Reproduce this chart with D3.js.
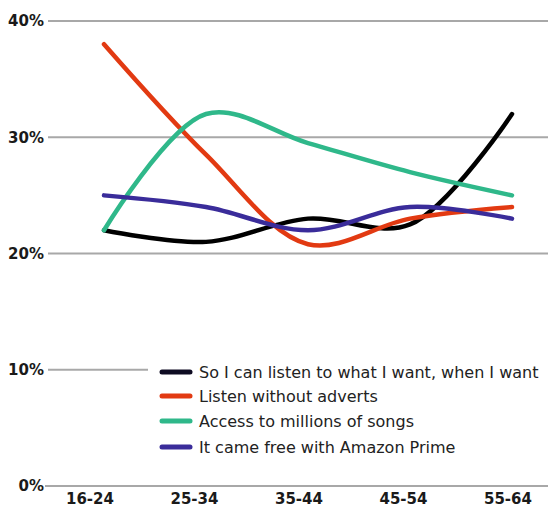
<!DOCTYPE html>
<html><head><meta charset="utf-8">
<script src="https://cdn.jsdelivr.net/npm/d3@7"></script>
<style>body{margin:0;background:#fff}svg{display:block}</style>
</head><body>
<svg id="c" width="548" height="509"></svg>
<script>
const categories = ["16-24","25-34","35-44","45-54","55-64"];
const yTicks = [0,10,20,30,40];
const seriesNames = ["So I can listen to what I want, when I want","Listen without adverts","Access to millions of songs","It came free with Amazon Prime"];
const whenIWant = [22,21,23,22.5,32];
const noAdverts = [38,28.5,20.8,23,24];
const millionsSongs = [22,32,29.5,27,25];
const amazonPrime = [25,24,22,24,23];
const colors = ["#000000","#e23a12","#2fb88a","#3a2c9a"];
const legendColors = ["#0e0b22","#e23a12","#2fb88a","#3a2c9a"];

const series = [whenIWant,noAdverts,millionsSongs,amazonPrime];
const svg = d3.select("#c");
const x = d3.scalePoint().domain(categories).range([104,512]);
const xLabel = d3.scalePoint().domain(categories).range([90,508]);
const y = d3.scaleLinear().domain([0,40]).range([486,21]);

// grid
const g = svg.append("g");
yTicks.forEach(t=>{
  g.append("line").attr("x1", t===0?45:48).attr("x2",548)
   .attr("y1",y(t)).attr("y2",y(t)).attr("stroke","#a8a8a8").attr("stroke-width",2);
  g.append("text").attr("x",44).attr("y",y(t)).attr("dy","0.36em")
   .attr("text-anchor","end").attr("font-family","DejaVu Sans, sans-serif")
   .attr("font-weight","bold").attr("font-size",15).attr("fill","#1a1a1a")
   .text(t+"%");
});
categories.forEach(c=>{
  g.append("text").attr("x",xLabel(c)).attr("y",504).attr("text-anchor","middle")
   .attr("font-family","DejaVu Sans, sans-serif").attr("font-weight","bold")
   .attr("font-size",15).attr("fill","#1a1a1a").text(c);
});

const line = d3.line().x((d,i)=>x(categories[i])).y(d=>y(d)).curve(d3.curveCatmullRom.alpha(0.5));
series.forEach((s,i)=>{
  svg.append("path").attr("d",line(s)).attr("fill","none").attr("stroke",colors[i])
   .attr("stroke-width",4.5).attr("stroke-linecap","round").attr("stroke-linejoin","round");
});

// legend
const lg = svg.append("g");
lg.append("rect").attr("x",148).attr("y",356).attr("width",400).attr("height",110).attr("fill","#fff");
const rows=[372,396,421,447];
seriesNames.forEach((n,i)=>{
  lg.append("line").attr("x1",162).attr("x2",190).attr("y1",rows[i]).attr("y2",rows[i])
    .attr("stroke",legendColors[i]).attr("stroke-width",5).attr("stroke-linecap","round");
  lg.append("text").attr("x",199).attr("y",rows[i]).attr("dy","0.36em")
    .attr("font-family","DejaVu Sans, sans-serif").attr("font-size",16).attr("fill","#222").text(n);
});
</script>
</body></html>
